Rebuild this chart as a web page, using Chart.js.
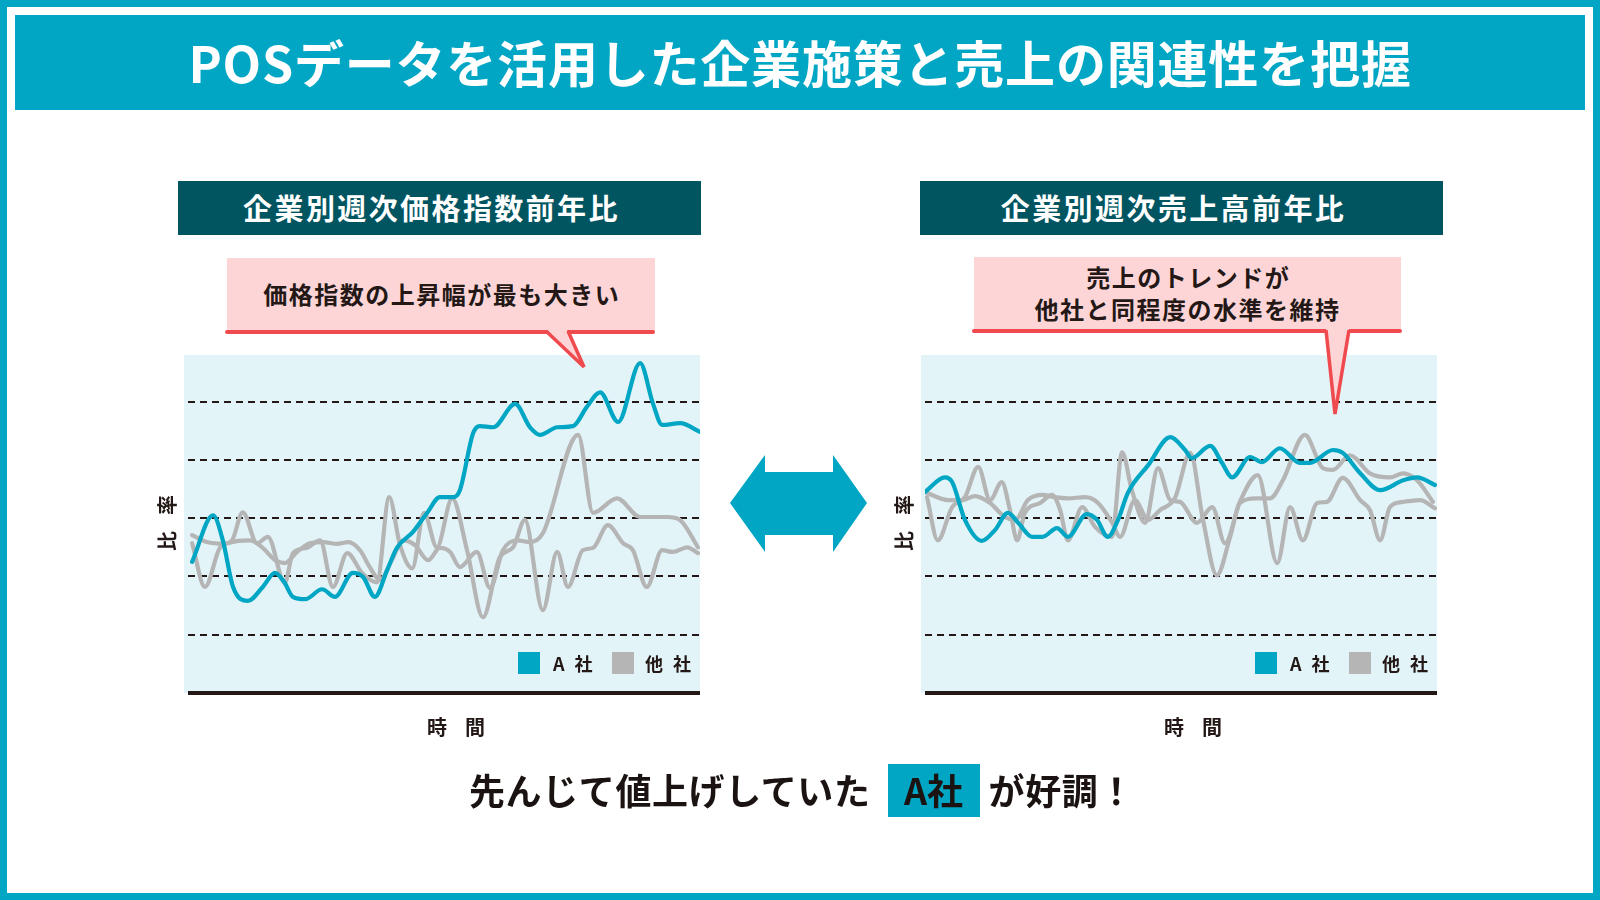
<!DOCTYPE html>
<html lang="ja">
<head>
<meta charset="utf-8">
<title>POSデータを活用した企業施策と売上の関連性を把握</title>
<script src="https://cdn.jsdelivr.net/npm/chart.js@4.4.1/dist/chart.umd.min.js"></script>
<style>
  html, body { margin: 0; padding: 0; background: #fff; }
  body { font-family: "Noto Sans CJK JP", "Noto Sans", sans-serif; color: #231815; }
  #page { position: relative; width: 1600px; height: 900px; overflow: hidden; }
  .abs { position: absolute; }
  #frame { left: 0; top: 0; width: 1600px; height: 900px; box-sizing: border-box; border: 7px solid #00a6c3; }
  #titleBand { left: 15px; top: 15px; width: 1570px; height: 95px; background: #00a6c3; color: #fff;
    font-size: 50px; font-weight: 700; line-height: 92px; text-align: center; letter-spacing: 0.8px; }
  .header { top: 181px; width: 523px; height: 54px; background: #015561; color: #fff; font-size: 29px;
    font-weight: 700; line-height: 52px; text-align: center; letter-spacing: 2.4px; padding-right: 16px;
    box-sizing: border-box; }
  .callout { background: #fdd5d7; font-weight: 700; font-size: 24px; letter-spacing: 1.5px; text-indent: 1.5px;
    text-align: center; }
  .redline { height: 4px; background: #ef4b4f; border-radius: 2px; }
  .plotBg { top: 355px; width: 516px; height: 338px; background: #e3f4f8; }
  .chartBox { top: 355px; width: 512px; height: 342px; }
  .yLabel { width: 120px; height: 24px; font-size: 20px; font-weight: 700; line-height: 24px; text-align: center;
    letter-spacing: 16px; text-indent: 16px; white-space: nowrap; transform: rotate(-90deg); }
  .xLabel { top: 714px; width: 200px; height: 26px; font-size: 20px; font-weight: 700; line-height: 26px;
    text-align: center; letter-spacing: 18px; text-indent: 18px; }
  .swatch { top: 652px; width: 22px; height: 22px; }
  .legendText { top: 650px; height: 26px; font-size: 18px; font-weight: 700; line-height: 26px; letter-spacing: 10px; }
  #bottomLine { left: 469px; top: 764px; height: 53px; font-size: 36px; font-weight: 700; line-height: 50px;
    color: #1a1311; white-space: nowrap; letter-spacing: 0.6px; }
  #bottomLine span { display: inline-block; vertical-align: top; }
  #highlight { width: 92px; height: 53px; background: #00a6c3; text-align: center; margin: 0 9px 0 17px; letter-spacing: 0; }
</style>
</head>
<body>
<div id="page">
  <div id="frame" class="abs"></div>
  <div id="titleBand" class="abs">POSデータを活用した企業施策と売上の関連性を把握</div>

  <div class="abs header" style="left:178px">企業別週次価格指数前年比</div>
  <div class="abs header" style="left:920px">企業別週次売上高前年比</div>

  <div class="abs callout" style="left:227px; top:258px; width:428px; height:74px; line-height:72px">価格指数の上昇幅が最も大きい</div>
  <div class="abs callout" style="left:974px; top:257px; width:427px; height:74px; line-height:32px; padding-top:4px; box-sizing:border-box">売上のトレンドが<br>他社と同程度の水準を維持</div>
  <div class="abs redline" style="left:225px; top:330px; width:430px"></div>
  <div class="abs redline" style="left:972px; top:329px; width:430px"></div>

  <div class="abs plotBg" style="left:184px"></div>
  <div class="abs plotBg" style="left:921px"></div>

  <div class="abs chartBox" style="left:188px"><canvas id="priceChart" width="512" height="342"></canvas></div>
  <div class="abs chartBox" style="left:925px"><canvas id="salesChart" width="512" height="342"></canvas></div>

  <svg class="abs" style="left:0; top:0" width="1600" height="900">
    <!-- callout pointers -->
    <polygon points="547,330 584,367 567,330" fill="#fdd5d7"/>
    <polyline points="546,331 584,367 568,331" fill="none" stroke="#ef4b4f" stroke-width="3.5" stroke-linejoin="miter"/>
    <polygon points="1326,329 1335,414 1349,329" fill="#fdd5d7"/>
    <polyline points="1326,330 1335,414 1349,330" fill="none" stroke="#ef4b4f" stroke-width="3.5" stroke-linejoin="miter"/>
    <!-- double arrow between the charts -->
    <polygon points="730,503 765,455 765,472 833,472 833,455 867,503 833,552 833,535 765,535 765,552" fill="#00a6c3"/>
  </svg>

  <div class="abs yLabel" style="left:107px; top:511px">比率</div>
  <div class="abs yLabel" style="left:844px; top:511px">比率</div>
  <div class="abs xLabel" style="left:356px">時間</div>
  <div class="abs xLabel" style="left:1093px">時間</div>

  <div class="abs swatch" style="left:518px; background:#00a6c3"></div>
  <div class="abs legendText" style="left:553px">A社</div>
  <div class="abs swatch" style="left:612px; background:#b5b5b6"></div>
  <div class="abs legendText" style="left:645px">他社</div>
  <div class="abs swatch" style="left:1255px; background:#00a6c3"></div>
  <div class="abs legendText" style="left:1290px">A社</div>
  <div class="abs swatch" style="left:1349px; background:#b5b5b6"></div>
  <div class="abs legendText" style="left:1382px">他社</div>

  <div id="bottomLine" class="abs"><span>先んじて値上げしていた</span><span id="highlight">A社</span><span>が好調！</span></div>
</div>

<script>
// Weekly price index, year on year (left chart) - time runs 0..100, index in %
const priceWeeksA = [0.8, 4.9, 6.8, 8.8, 11.7, 14.6, 17.0, 18.8, 20.5, 22.9, 26.2, 28.7, 32.2, 34.2, 36.5, 38.9, 40.8, 43.9, 46.7, 49.2, 51.8, 53.1, 55.7, 57.0, 59.6, 63.9, 66.8, 68.8, 72.1, 75.2, 77.9, 80.5, 84.0, 88.3, 90.8, 92.6, 96.1, 100];
const priceA = [102.5, 110.5, 106.2, 98.2, 95.8, 98.2, 100.6, 99.0, 96.5, 96.1, 97.8, 96.5, 100.6, 99.9, 96.5, 101.1, 104.9, 107.6, 110.9, 113.6, 113.6, 114.8, 124.6, 125.8, 125.6, 129.6, 125.6, 124.3, 125.6, 125.8, 129.1, 131.6, 126.5, 136.6, 129.7, 126.0, 126.3, 124.8];

const priceWeeksOther1 = [0.8, 3.7, 6.8, 9.8, 12.1, 14.6, 17.0, 18.9, 21.3, 23.8, 26.4, 29.1, 31.3, 33.6, 35.5, 37.5, 39.8, 42.0, 44.3, 46.9, 49.2, 51.2, 53.1, 56.4, 59.0, 61.5, 64.3, 66.8, 69.3, 76.2, 79.1, 83.8, 88.3, 93.6, 96.1, 99.6];
const priceOther1 = [107.1, 105.9, 105.6, 106.1, 106.2, 104.9, 102.8, 102.3, 104.2, 105.7, 105.9, 105.6, 105.9, 104.5, 101.6, 99.4, 102.8, 106.2, 105.4, 102.8, 104.9, 104.2, 101.6, 104.2, 98.0, 104.5, 106.2, 105.9, 107.4, 124.3, 110.9, 113.4, 110.2, 110.2, 109.7, 105.0];

const priceWeeksOther2 = [0.8, 3.3, 6.3, 8.6, 10.7, 13.5, 15.6, 18.9, 20.5, 23.2, 25.8, 28.3, 31.1, 34.0, 36.9, 39.3, 41.4, 43.8, 46.1, 48.6, 51.6, 54.5, 57.6, 60.9, 63.5, 65.8, 69.3, 72.1, 74.2, 77.1, 79.1, 82.0, 85.0, 86.9, 89.6, 92.6, 94.7, 97.5, 99.6];
const priceOther2 = [105.7, 98.2, 105.0, 106.2, 111.0, 105.7, 106.8, 98.9, 104.0, 104.9, 106.2, 98.2, 104.0, 100.6, 99.0, 113.6, 105.4, 101.4, 110.9, 105.0, 113.4, 104.5, 93.0, 103.3, 105.0, 109.7, 94.2, 104.2, 98.2, 104.5, 104.9, 108.8, 105.7, 104.5, 98.2, 104.5, 104.2, 105.0, 104.0];

// Weekly sales, year on year (right chart)
const salesWeeksA = [0, 3.9, 5.3, 7.8, 11.1, 13.7, 16.2, 18.2, 20.9, 22.9, 25.8, 27.9, 31.6, 33.6, 35.7, 37.7, 39.6, 43.6, 47.9, 50.8, 52.1, 55.7, 58.0, 60.0, 63.5, 65.8, 69.3, 73.2, 75.2, 79.7, 81.6, 85.0, 88.9, 93.4, 96.1, 99.6];
const salesA = [114.5, 117.0, 116.2, 109.7, 106.1, 108.0, 110.9, 109.2, 106.8, 106.8, 108.3, 106.8, 110.7, 109.7, 106.8, 109.7, 114.3, 119.1, 123.9, 121.7, 120.3, 122.4, 119.5, 117.0, 120.5, 119.6, 122.0, 119.5, 119.5, 121.7, 121.2, 117.7, 114.8, 116.5, 117.0, 115.7];

const salesWeeksOther1 = [0, 4.5, 7.2, 9.8, 12.7, 15.6, 17.6, 20.1, 22.9, 25.4, 27.9, 31.3, 33.8, 36.5, 38.1, 41.0, 43.6, 45.9, 48.8, 51.8, 54.3, 57.0, 59.6, 61.5, 64.8, 67.4, 69.9, 74.2, 77.7, 79.7, 83.0, 86.9, 90.8, 93.4, 96.1, 99.2];
const salesOther1 = [114.5, 113.1, 113.1, 113.8, 112.6, 110.2, 109.7, 113.1, 114.0, 113.6, 113.4, 113.6, 112.6, 109.3, 106.8, 113.1, 109.7, 111.4, 113.4, 121.2, 109.7, 100.2, 106.8, 112.6, 113.4, 113.4, 116.5, 124.3, 118.6, 118.3, 120.8, 117.7, 117.0, 117.7, 116.5, 112.8];

const salesWeeksOther2 = [0.4, 2.5, 5.3, 7.8, 10.4, 12.7, 15.0, 16.6, 18.0, 19.5, 22.5, 24.8, 26.4, 27.9, 30.7, 33.2, 36.5, 38.5, 40.4, 43.0, 45.5, 47.9, 49.8, 53.1, 56.1, 58.6, 61.5, 65.0, 68.8, 71.3, 73.8, 76.6, 78.5, 81.6, 85.0, 86.9, 88.9, 90.8, 93.4, 96.7, 99.6];
const salesOther2 = [113.6, 106.2, 111.9, 113.6, 118.8, 113.1, 116.2, 111.4, 106.2, 110.9, 112.6, 114.0, 111.4, 106.2, 111.9, 108.5, 106.8, 121.3, 114.8, 109.2, 118.6, 113.1, 112.8, 109.2, 111.9, 105.7, 112.8, 117.4, 102.3, 111.9, 106.2, 112.6, 112.8, 116.9, 113.1, 111.4, 106.2, 111.9, 112.8, 113.1, 111.7];

// Dashed guide lines (no tick labels are shown)
const gridValues = [90, 100, 110, 120, 130];

const TEAL = "#00a6c3";
const GREY = "#b5b5b6";
const INK = "#231815";

// Pairs up time and value arrays for a linear x axis
function toPoints(weeks, values) {
  return weeks.map((week, i) => ({ x: week, y: values[i] }));
}

function lineDataset(label, weeks, values, color) {
  return {
    label: label,
    data: toPoints(weeks, values),
    borderColor: color,
    borderWidth: 4.2,
    borderCapStyle: "round",
    borderJoinStyle: "round",
    pointRadius: 0,
    cubicInterpolationMode: "monotone",
    fill: false
  };
}

// Builds one of the two trend panels
function createTrendChart(canvasId, datasets) {
  const ctx = document.getElementById(canvasId).getContext("2d");

  return new Chart(ctx, {
    type: "line",
    data: { datasets: datasets },
    options: {
      responsive: false,
      animation: false,
      layout: { autoPadding: false, padding: { top: 0, left: 0, right: 0, bottom: 4 } },
      plugins: {
        legend: { display: false },
        tooltip: { enabled: false }
      },
      scales: {
        x: {
          type: "linear",
          min: 0,
          max: 100,
          ticks: { display: false },
          grid: { display: false, drawTicks: false },
          border: { display: true, color: INK, width: 4 }
        },
        y: {
          min: 80,
          max: 138,
          afterBuildTicks: axis => {
            axis.ticks = gridValues.map(value => ({ value: value }));
          },
          ticks: { display: false },
          grid: { color: INK, lineWidth: 2, drawTicks: false },
          border: { display: false, dash: [7, 5] }
        }
      }
    }
  });
}

// A社 goes first so it is painted on top of the grey lines
const priceChart = createTrendChart("priceChart", [
  lineDataset("A社", priceWeeksA, priceA, TEAL),
  lineDataset("他社", priceWeeksOther1, priceOther1, GREY),
  lineDataset("他社", priceWeeksOther2, priceOther2, GREY)
]);

const salesChart = createTrendChart("salesChart", [
  lineDataset("A社", salesWeeksA, salesA, TEAL),
  lineDataset("他社", salesWeeksOther1, salesOther1, GREY),
  lineDataset("他社", salesWeeksOther2, salesOther2, GREY)
]);
</script>
</body>
</html>
